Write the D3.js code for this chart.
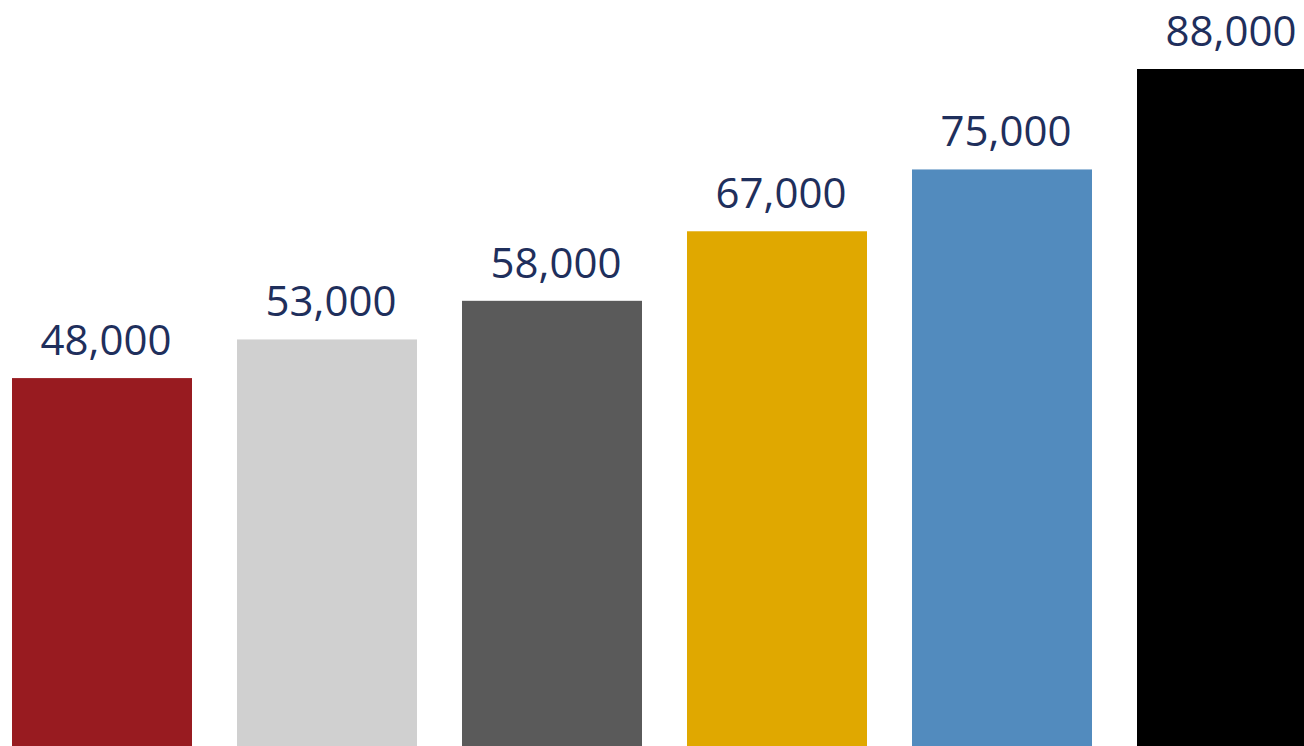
<!DOCTYPE html>
<html>
<head>
<meta charset="utf-8">
<script src="https://cdn.jsdelivr.net/npm/d3@7/dist/d3.min.js"></script>
<style>
  html, body { margin: 0; padding: 0; background: #ffffff; overflow: hidden; }
  svg { display: block; }
</style>
</head>
<body>
<svg id="chart" width="1304" height="746"></svg>
<script>
const categories = ["Bar 1", "Bar 2", "Bar 3", "Bar 4", "Bar 5", "Bar 6"];
const values = [48000, 53000, 58000, 67000, 75000, 88000];
const colors = ["#981b20", "#d0d0d0", "#5a5a5a", "#e0a800", "#528bbe", "#000000"];

const svg = d3.select("#chart");

const x = d3.scaleBand()
  .domain(categories)
  .range([-10.5, 1339.5])
  .paddingInner(0.2)
  .paddingOuter(0.1);

const y = d3.scaleLinear()
  .domain([0, 88000])
  .range([749, 69]);

const fmt = d3.format(",");

const data = categories.map((c, i) => ({ c, v: values[i], col: colors[i] }));

svg.selectAll("rect.bar")
  .data(data)
  .join("rect")
  .attr("class", "bar")
  .attr("x", d => x(d.c))
  .attr("width", x.bandwidth())
  .attr("y", d => y(d.v))
  .attr("height", d => y(0) - y(d.v))
  .attr("fill", d => d.col);

svg.selectAll("text.lbl")
  .data(data)
  .join("text")
  .attr("class", "lbl")
  .attr("x", d => x(d.c) + x.bandwidth() / 2 + 4)
  .attr("y", d => y(d.v) - 23)
  .attr("text-anchor", "middle")
  .attr("font-family", "'Open Sans', 'Noto Sans', sans-serif")
  .attr("font-size", 42)
  .attr("fill", "#1f2f5c")
  .text(d => fmt(d.v));
</script>
</body>
</html>
